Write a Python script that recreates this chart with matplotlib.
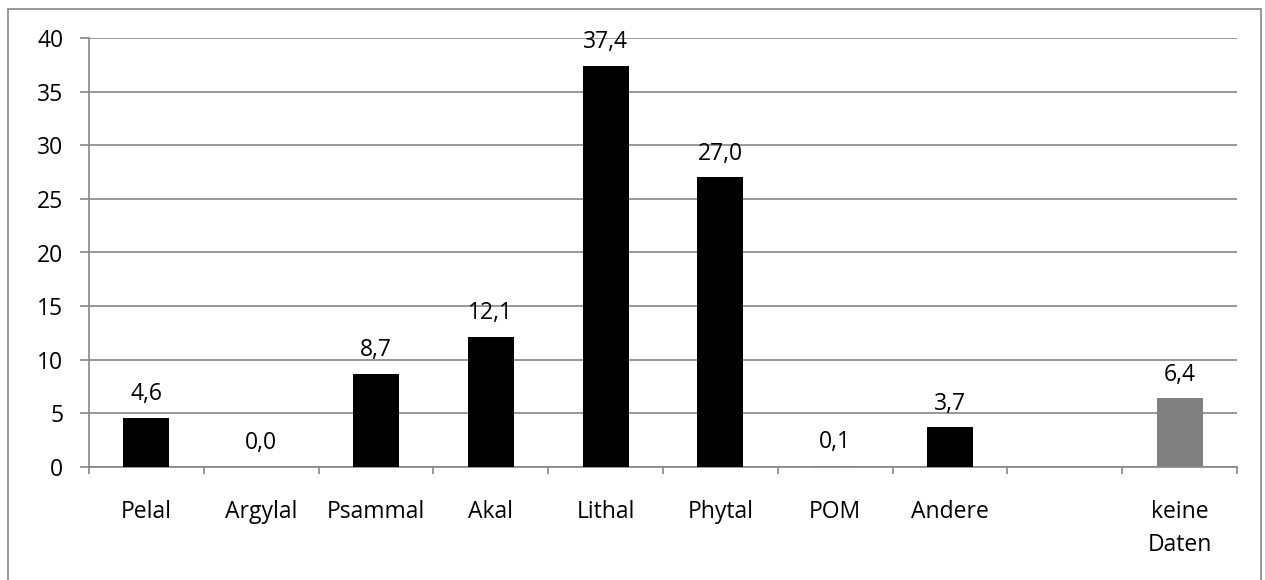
import numpy as np
import matplotlib.pyplot as plt
from matplotlib.patches import Rectangle

categories = ["Pelal", "Argylal", "Psammal", "Akal", "Lithal", "Phytal", "POM", "Andere", "", "keine\nDaten"]
values = [4.6, 0.0, 8.7, 12.1, 37.4, 27.0, 0.1, 3.7, np.nan, 6.4]
colors = ["black", "black", "black", "black", "black", "black", "#808080", "black", "black", "#808080"]

plt.rcParams['font.family'] = ['Open Sans', 'DejaVu Sans']
grey = "#868686"
fs = 16.5

fig = plt.figure(figsize=(12.65, 5.8), dpi=100)
ax = fig.add_axes([89 / 1265, 113 / 580, (1237 - 89) / 1265, (467 - 38) / 580])

# outer chart frame
fig.patches.append(Rectangle((8 / 1265, -0.05), (1261 - 8) / 1265, (580 - 9) / 580 + 0.05,
                             transform=fig.transFigure, fill=False, edgecolor=grey, linewidth=1.2))

x = np.arange(len(categories))
ax.bar(x, np.nan_to_num(values), width=0.4, color=colors, zorder=3)

for xi, v in zip(x, values):
    if np.isnan(v):
        continue
    ax.text(xi, v + 1.1, f"{v:.1f}".replace(".", ","), ha="center", va="bottom", fontsize=fs)

ax.set_xlim(-0.5, len(categories) - 0.5)
ax.set_ylim(0, 40)
ax.set_yticks(range(0, 41, 5))
ax.yaxis.grid(True, color=grey, linewidth=1.2, zorder=0)
ax.set_axisbelow(True)

ax.set_xticks(x)
ax.set_xticklabels(categories, fontsize=fs, linespacing=1.5)
ax.tick_params(axis="x", length=0, pad=24)
ax.set_xticks(np.arange(-0.5, len(categories)), minor=True)
ax.tick_params(axis="x", which="minor", length=5, width=1.2, color=grey, direction="out")
ax.tick_params(axis="y", length=6.5, width=1.2, color=grey, labelsize=fs, pad=12)

for s in ["top", "right"]:
    ax.spines[s].set_visible(False)
for s in ["left", "bottom"]:
    ax.spines[s].set_color(grey)
    ax.spines[s].set_linewidth(1.2)

fig.savefig("out.png", dpi=100)
